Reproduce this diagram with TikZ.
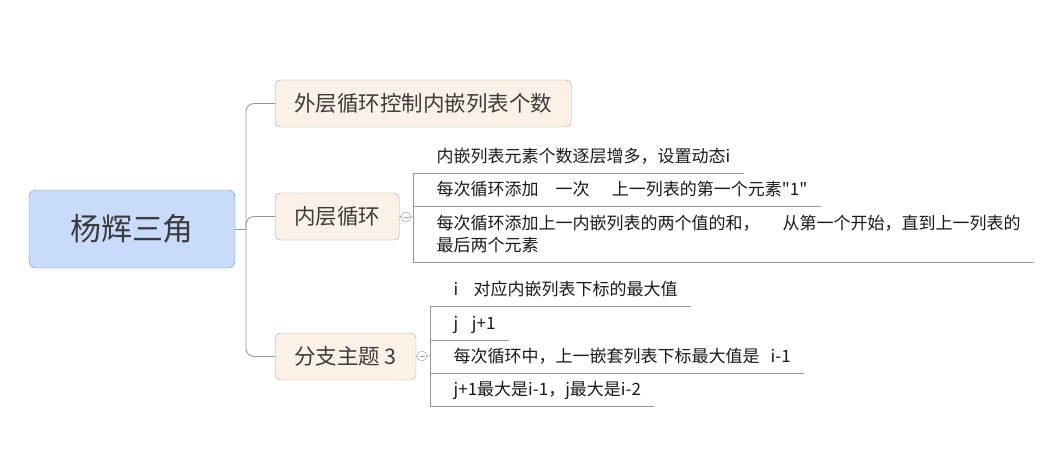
\documentclass[tikz,border=0pt]{standalone}
\usepackage{fontspec}
\setmainfont{Noto Sans CJK SC}
\newfontfamily\cjkplain{Noto Sans CJK SC}
\usetikzlibrary{positioning}
\definecolor{rootfill}{HTML}{C8DBFA}
\definecolor{rootline}{HTML}{7088AE}
\definecolor{topicfill}{HTML}{FCF1E7}
\definecolor{topicline}{HTML}{ABA398}
\definecolor{branch}{HTML}{979797}
\definecolor{ink}{HTML}{3C3C3C}
\tikzset{rootbox/.style={draw=rootline, fill=rootfill, rounded corners=7pt, minimum width=206pt, minimum height=78pt, text=ink, font=\fontsize{31}{31}\selectfont},
topicbox/.style={draw=topicline, fill=topicfill, rounded corners=5pt, anchor=west, minimum height=47pt, inner xsep=19pt, text=ink, font=\fontsize{21.5}{21.5}\selectfont},
leaf/.style={anchor=south west, inner xsep=13pt, inner ysep=7pt, text height=11pt, text depth=3pt, align=left, text=black!90, font=\cjkplain\fontsize{17}{22}\selectfont, execute at begin node=\hspace{10.5pt}},
branchline/.style={draw=branch, line width=0.9pt},
fold/.style={circle, draw=branch, fill=white, minimum size=10pt, inner sep=0pt, path picture={\draw[branch] ([xshift=-2.5pt]path picture bounding box.center) -- ([xshift=2.5pt]path picture bounding box.center);}}}

\begin{document}
\begin{tikzpicture}[x=1pt, y=-1pt]
\useasboundingbox (0,0) rectangle (1061,448);
\node[rootbox] (root) at (132,229) {杨辉三角};
\node[topicbox] (outer) at (275,103.5) {外层循环控制内嵌列表个数};
\node[topicbox] (inner) at (275,216.5) {内层循环};
\node[topicbox] (sub) at (275,356.5) {分支主题 3};
\coordinate (hub) at (246,229);
\draw[branchline] (root.east) -- (hub);
\draw[branchline, rounded corners=8pt] (hub) |- (outer.west);
\draw[branchline, rounded corners=8pt] (hub) |- (inner.west);
\draw[branchline, rounded corners=8pt] (hub) |- (sub.west);
% inner loop details
\node[leaf] (a1) at (413,173) {内嵌列表元素个数逐层增多，设置动态i};
\node[leaf] (a2) at (413,206) {每次循环添加\hspace{1em}一次\hspace{1.3em}上一列表的第一个元素"1"};
\node[leaf] (a3) at (413,262) {每次循环添加上一内嵌列表的两个值的和，\hspace{1.35em}从第一个开始，直到上一列表的\\最后两个元素};
\node[fold] (f1) at (406,217) {};
\foreach \n in {a1,a2,a3} \draw[branchline] (\n.south west) -- (\n.south east);
\draw[branchline] (a1.south west) -- (a3.south west);
\draw[branchline] (inner.east) -- (f1) -- (f1 -| a1.south west);
% branch 3 details
\node[leaf] (b1) at (430,306) {i\hspace{0.9em}对应内嵌列表下标的最大值};
\node[leaf] (b2) at (430,340) {j\hspace{0.8em}j+1};
\node[leaf] (b3) at (430,373) {每次循环中，上一嵌套列表下标最大值是\hspace{0.65em}i-1};
\node[leaf] (b4) at (430,406) {j+1最大是i-1，j最大是i-2};
\node[fold] (f2) at (422,356) {};
\foreach \n in {b1,b2,b3,b4} \draw[branchline] (\n.south west) -- (\n.south east);
\draw[branchline] (b1.south west) -- (b4.south west);
\draw[branchline] (sub.east) -- (f2) -- (f2 -| b1.south west);
\end{tikzpicture}
\end{document}
